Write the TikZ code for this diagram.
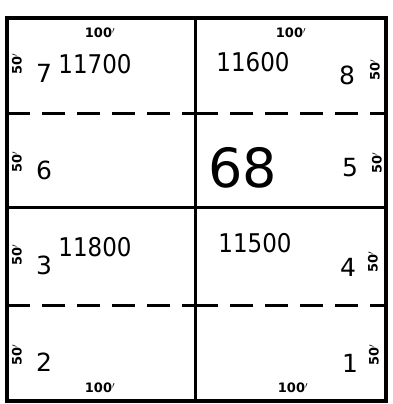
\documentclass[tikz,border=0pt]{standalone}
\usepackage{fontspec}
\setmainfont{DejaVu Sans}
\begin{document}
\begin{tikzpicture}[x=1pt,y=-1pt,
  outer/.style={line width=3.4pt},
  solidline/.style={line width=3pt},
  dashline/.style={line width=3pt, dash pattern=on 23pt off 12pt},
  big/.style={font=\fontsize{23}{23}\selectfont, inner sep=0pt, yscale=1.12},
  huge/.style={font=\fontsize{54}{54}\selectfont, inner sep=0pt},
  lotno/.style={font=\fontsize{25}{25}\selectfont, inner sep=0pt},
  dim/.style={font=\bfseries\fontsize{13}{13}\selectfont, inner sep=0pt},
  side/.style={font=\bfseries\fontsize{13}{13}\selectfont, inner sep=0pt, rotate=90}]
\useasboundingbox (0,0) rectangle (392,404);
% grid coordinates
\coordinate (tl) at (7,18);
\coordinate (br) at (386,401);
\coordinate (mt) at (195,18);
\coordinate (mb) at (195,401);
\coordinate (hl) at (7,207);
\coordinate (hr) at (386,207);
\coordinate (d1l) at (7,113);
\coordinate (d1r) at (386,113);
\coordinate (d2l) at (7,305);
\coordinate (d2r) at (386,305);
\draw[outer] (tl) rectangle (br);
\draw[solidline] (mt) -- (mb);
\draw[solidline] (hl) -- (hr);
\draw[dashline] (d1l) -- (mt |- d1l);
\draw[dashline] (mt |- d1r) -- (d1r);
\draw[dashline] (d2l) -- (mt |- d2l);
\draw[dashline] (mt |- d2r) -- (d2r);
% row 1
\node[dim] (t100a) at (100,33) {100$'$};
\node[dim] (t100b) at (291,33) {100$'$};
\node[side] (s7) at (17,64) {50$'$};
\node[lotno] (n7) at (44,73) {7};
\node[big] (v11700) at (95,64) {11700};
\node[big] (v11600) at (253,62) {11600};
\node[lotno] (n8) at (347,75) {8};
\node[side] (s8) at (375,70) {50$'$};
% row 2
\node[side] (s6) at (17,162) {50$'$};
\node[lotno] (n6) at (44,170) {6};
\node[huge] (v68) at (243,168) {68};
\node[lotno] (n5) at (350,168) {5};
\node[side] (s5) at (377,163) {50$'$};
% row 3
\node[side] (s3) at (17,255) {50$'$};
\node[lotno] (n3) at (44,265) {3};
\node[big] (v11800) at (95,247) {11800};
\node[big] (v11500) at (255,243) {11500};
\node[lotno] (n4) at (348,267) {4};
\node[side] (s4) at (373,262) {50$'$};
% row 4
\node[side] (s2) at (17,355) {50$'$};
\node[lotno] (n2) at (44,362) {2};
\node[dim] (b100a) at (100,388) {100$'$};
\node[lotno] (n1) at (350,363) {1};
\node[side] (s1) at (374,355) {50$'$};
\node[dim] (b100b) at (293,388) {100$'$};
\end{tikzpicture}
\end{document}
